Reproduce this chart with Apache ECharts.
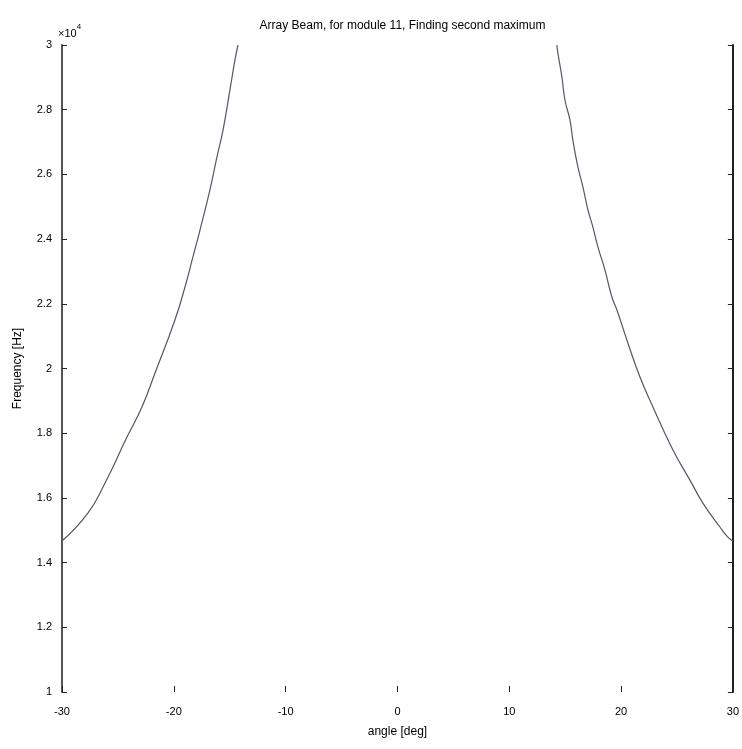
<!DOCTYPE html>
<html>
<head>
<meta charset="utf-8">
<script src="https://cdn.jsdelivr.net/npm/echarts@6/dist/echarts.min.js"></script>
<style>html,body{margin:0;padding:0;background:#fff;}#c{width:742px;height:749px;}</style>
</head>
<body>
<div id="c"></div>
<script>
const titleText = 'Array Beam, for module 11, Finding second maximum';
const xName = 'angle [deg]';
const yName = 'Frequency [Hz]';
const xTicks = [-30, -20, -10, 0, 10, 20, 30];
const yTicks = [1, 1.2, 1.4, 1.6, 1.8, 2, 2.2, 2.4, 2.6, 2.8, 3];
// frequency in units of 10^4 Hz
const leftAngle = [-30, -27.67, -26.15, -24.19, -22.85, -21.68, -19.90, -19.00, -18.29, -17.66, -16.77, -16.14, -15.60, -14.98, -14.53, -14.26];
const leftFreq  = [1.467, 1.554, 1.646, 1.788, 1.881, 1.986, 2.150, 2.252, 2.345, 2.428, 2.552, 2.654, 2.737, 2.861, 2.954, 3.0];
const rightAngle = [14.26, 14.35, 14.71, 14.98, 15.43, 15.69, 16.14, 16.59, 17.04, 17.48, 17.93, 18.56, 19.18, 19.63, 20.61, 21.69, 22.85, 24.64, 26.16, 27.32, 28.84, 29.55, 30];
const rightFreq  = [3.0, 2.975, 2.901, 2.830, 2.768, 2.706, 2.623, 2.561, 2.490, 2.437, 2.376, 2.304, 2.221, 2.181, 2.079, 1.974, 1.881, 1.748, 1.655, 1.584, 1.510, 1.479, 1.467];

const FONT = '"Liberation Sans", Arial, Helvetica, sans-serif';
const chart = echarts.init(document.getElementById('c'), null, {renderer: 'canvas'});
const zip = (a, b) => a.map((v, i) => [v, b[i]]);

chart.setOption({
  animation: false,
  backgroundColor: '#ffffff',
  textStyle: {fontFamily: FONT},
  title: {
    text: titleText,
    left: 397.5,
    top: 15,
    textAlign: 'center',
    textStyle: {fontFamily: FONT, fontSize: 12, fontWeight: 'normal', color: '#000'}
  },
  graphic: [{
    type: 'text',
    left: 58,
    top: 23,
    style: {
      text: '{a|×10}{b|4}',
      rich: {
        a: {fontFamily: FONT, fontSize: 11, fill: '#000', verticalAlign: 'bottom'},
        b: {fontFamily: FONT, fontSize: 8, fill: '#000', verticalAlign: 'top', padding: [0, 0, 8, 0]}
      }
    }
  }],
  grid: {left: 62, right: 9, top: 45, bottom: 57, containLabel: false},
  xAxis: {
    type: 'value',
    min: xTicks[0], max: xTicks[xTicks.length - 1], interval: 10,
    name: xName, nameLocation: 'middle', nameGap: 34,
    nameTextStyle: {fontFamily: FONT, fontSize: 12, color: '#000'},
    axisLine: {show: false, onZero: false},
    axisTick: {show: true, inside: true, length: 6, lineStyle: {color: '#222'}},
    axisLabel: {fontFamily: FONT, fontSize: 11, color: '#000', margin: 14,
      formatter: v => xTicks.includes(v) ? String(v) : ''},
    splitLine: {show: false}
  },
  yAxis: [{
    type: 'value',
    position: 'left',
    min: 1, max: 3, interval: 0.2,
    name: yName, nameLocation: 'middle', nameGap: 38,
    nameTextStyle: {fontFamily: FONT, fontSize: 12, color: '#000'},
    axisLine: {show: true, onZero: false, lineStyle: {color: '#555', width: 2}},
    axisTick: {show: true, inside: true, length: 5, lineStyle: {color: '#222'}},
    axisLabel: {fontFamily: FONT, fontSize: 11, color: '#000', margin: 10,
      formatter: v => String(+v.toFixed(1))},
    splitLine: {show: false}
  }, {
    type: 'value',
    position: 'right',
    min: 1, max: 3, interval: 0.2,
    axisLine: {show: true, onZero: false, lineStyle: {color: '#222', width: 2}},
    axisTick: {show: true, inside: true, length: 5, lineStyle: {color: '#222'}},
    axisLabel: {show: false},
    splitLine: {show: false}
  }],
  series: [{
    type: 'line',
    data: zip(leftAngle, leftFreq),
    showSymbol: false,
    smooth: 0.5,
    clip: true,
    lineStyle: {color: '#555566', width: 1.2}
  }, {
    type: 'line',
    data: zip(rightAngle, rightFreq),
    showSymbol: false,
    smooth: 0.5,
    clip: true,
    lineStyle: {color: '#555566', width: 1.2}
  }]
});
</script>
</body>
</html>
